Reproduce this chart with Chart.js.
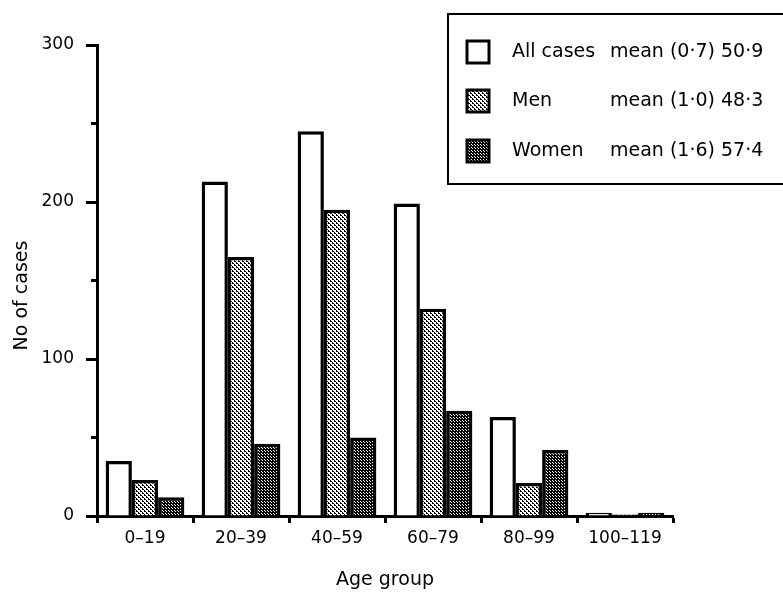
<!DOCTYPE html>
<html>
<head>
<meta charset="utf-8">
<script src="https://cdn.jsdelivr.net/npm/chart.js@4/dist/chart.umd.min.js"></script>
<style>
  html, body { margin: 0; padding: 0; background: #fff; }
  #wrap { width: 783px; height: 594px; }
</style>
</head>
<body>
<div id="wrap"><canvas id="c" width="783" height="594"></canvas></div>
<script>
// ---- data ----
const categories = ['0–19', '20–39', '40–59', '60–79', '80–99', '100–119'];
const allCases = [35, 213, 245, 199, 63, 2];
const men      = [23, 165, 195, 132, 21, 1];
const women    = [12, 46, 50, 67, 42, 2];
const seriesLabels = ['All cases', 'Men', 'Women'];
const meanLabels = ['mean (0·7) 50·9', 'mean (1·0) 48·3', 'mean (1·6) 57·4'];
const yTicks = [0, 100, 200, 300];
const yMinorTicks = [50, 150, 250];
const xTitle = 'Age group';
const yTitle = 'No of cases';

// ---- patterns ----
function makePattern(size, whitePixels) {
  const c = document.createElement('canvas');
  c.width = size; c.height = size;
  const g = c.getContext('2d');
  g.fillStyle = '#000';
  g.fillRect(0, 0, size, size);
  g.fillStyle = '#fff';
  whitePixels.forEach(p => g.fillRect(p[0], p[1], 1, 1));
  return g.createPattern(c, 'repeat');
}
const ctx = document.getElementById('c').getContext('2d');
const menPattern = makePattern(4, [[0,0],[1,0],[0,1],[1,1],[2,2],[3,2],[2,3],[3,3],[1,2],[3,0]]);
const womenPattern = makePattern(3, [[1,1],[0,0]]);

const FONT = "'DejaVu Sans', 'Liberation Sans', sans-serif";

// minor ticks on y axis + y axis title
const minorTicksPlugin = {
  id: 'minorTicks',
  afterDraw(chart) {
    const y = chart.scales.y;
    const c = chart.ctx;
    c.save();
    c.strokeStyle = '#000';
    c.lineWidth = 3;
    yMinorTicks.forEach(v => {
      const py = y.getPixelForValue(v);
      c.beginPath();
      c.moveTo(y.right - 6, py);
      c.lineTo(y.right + 2, py);
      c.stroke();
    });
    // y-axis title
    c.translate(22, (y.top + y.bottom) / 2 + 15);
    c.rotate(-Math.PI / 2);
    c.fillStyle = '#000';
    c.font = '19px ' + FONT;
    c.textAlign = 'center';
    c.textBaseline = 'middle';
    c.fillText(yTitle, 0, 0);
    c.restore();
  }
};

// custom legend box
const legendBoxPlugin = {
  id: 'legendBox',
  afterDraw(chart) {
    const c = chart.ctx;
    c.save();
    c.strokeStyle = '#000';
    c.lineWidth = 2;
    c.strokeRect(448, 14, 400, 170);
    const rows = [52, 101, 151];
    chart.data.datasets.forEach((ds, i) => {
      const cy = rows[i];
      c.fillStyle = ds.backgroundColor;
      c.fillRect(467, cy - 11, 22, 22);
      c.lineWidth = 3;
      c.strokeRect(467, cy - 11, 22, 22);
      c.fillStyle = '#000';
      c.font = '19px ' + FONT;
      c.textBaseline = 'middle';
      c.textAlign = 'left';
      c.fillText(seriesLabels[i], 512, cy);
      c.fillText(meanLabels[i], 610, cy);
    });
    c.restore();
  }
};

new Chart(ctx, {
  type: 'bar',
  data: {
    labels: categories,
    datasets: [
      { label: seriesLabels[0], data: allCases, backgroundColor: '#fff', borderColor: '#000', borderWidth: 3.5 },
      { label: seriesLabels[1], data: men, backgroundColor: menPattern, borderColor: '#000', borderWidth: 3.5 },
      { label: seriesLabels[2], data: women, backgroundColor: womenPattern, borderColor: '#000', borderWidth: 3.5 }
    ]
  },
  options: {
    responsive: false,
    animation: false,
    devicePixelRatio: 1,
    layout: { padding: { left: 0, top: 45, right: 110, bottom: 0 } },
    datasets: { bar: { categoryPercentage: 0.82, barPercentage: 1.0 } },
    plugins: {
      legend: { display: false },
      tooltip: { enabled: false }
    },
    scales: {
      x: {
        grid: { display: true, offset: true, drawOnChartArea: false, drawTicks: true, tickLength: 7, tickWidth: 3, tickColor: '#000' },
        border: { display: true, color: '#000', width: 3 },
        ticks: { color: '#000', font: { family: FONT, size: 17 }, padding: 5, maxRotation: 0 },
        title: { display: true, text: xTitle, color: '#000', font: { family: FONT, size: 19 }, padding: { top: 0, bottom: 3 } },
        afterFit(scale) { scale.height = 78; }
      },
      y: {
        min: 0, max: 300,
        afterBuildTicks(scale) { scale.ticks = yTicks.map(v => ({ value: v })); },
        grid: { display: true, drawOnChartArea: false, drawTicks: true, tickLength: 11, tickWidth: 3, tickColor: '#000' },
        border: { display: true, color: '#000', width: 3 },
        ticks: { color: '#000', font: { family: FONT, size: 17 }, padding: 12 },
        title: { display: false },
        afterFit(scale) { scale.width = 97; }
      }
    }
  },
  plugins: [minorTicksPlugin, legendBoxPlugin]
});
</script>
</body>
</html>
